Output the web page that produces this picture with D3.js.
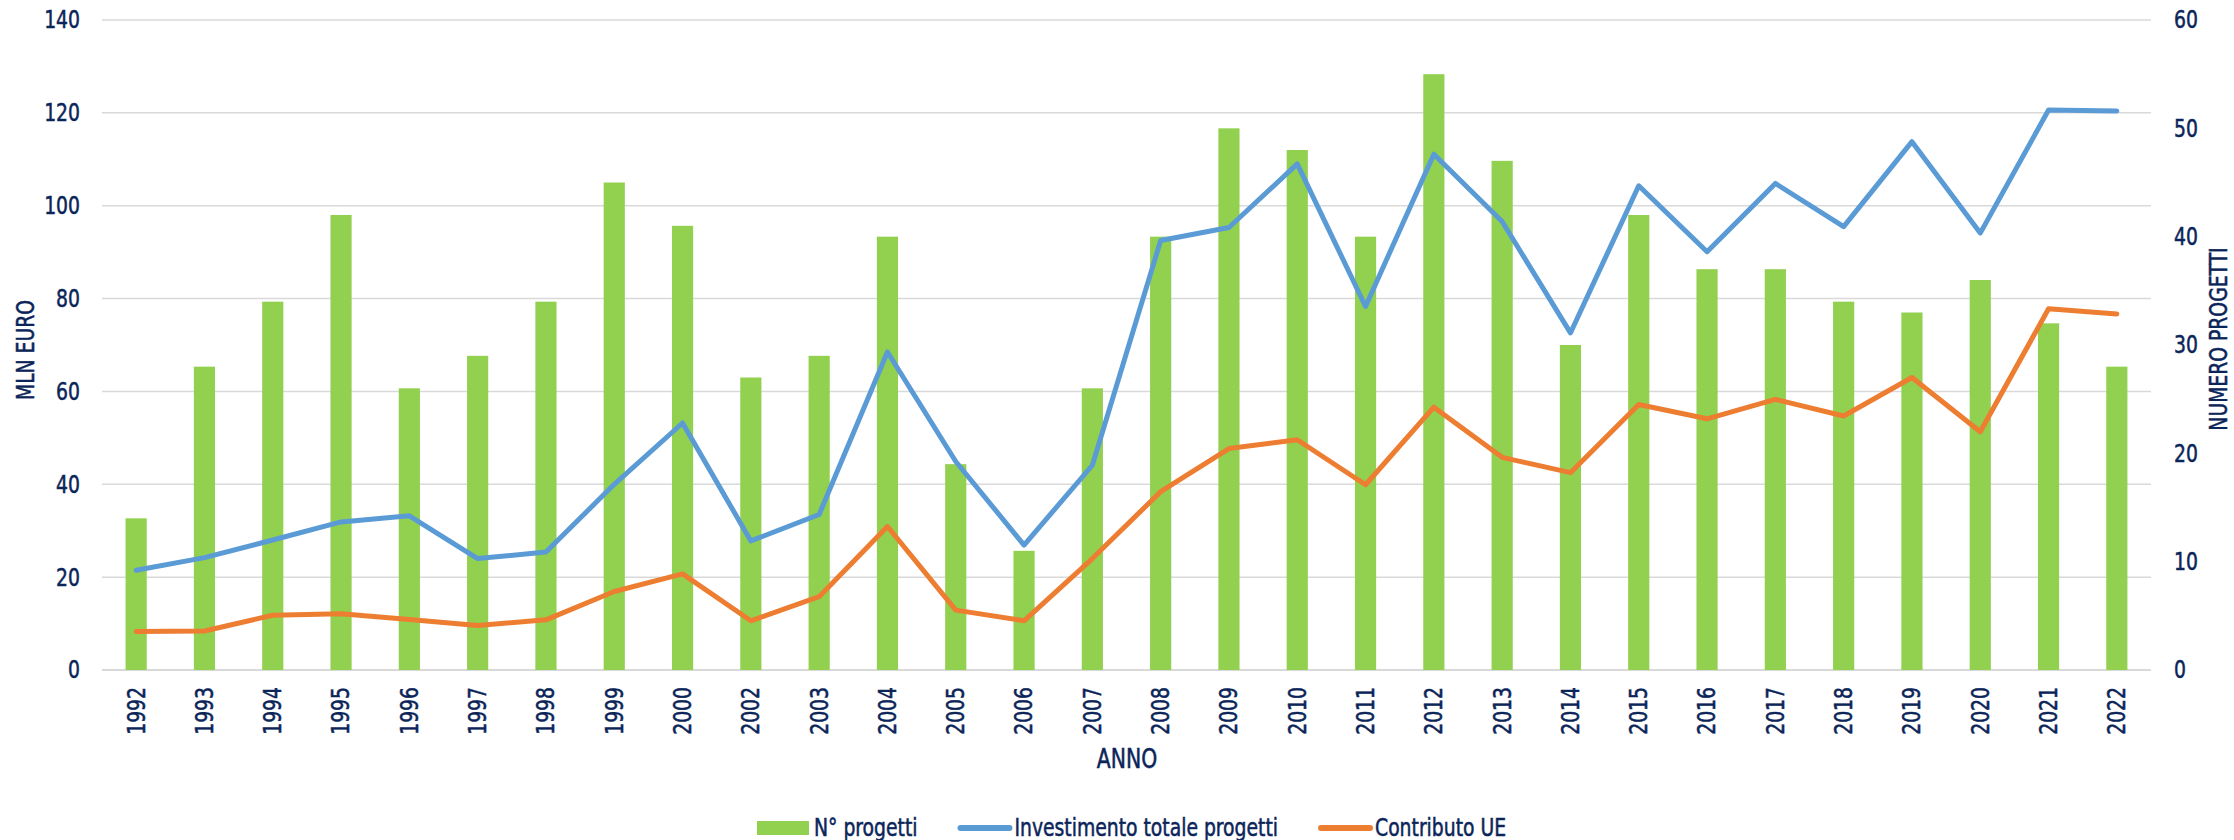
<!DOCTYPE html>
<html>
<head>
<meta charset="utf-8">
<script src="https://cdn.jsdelivr.net/npm/d3@7"></script>
<style>
  html, body { margin: 0; padding: 0; background: #fff; }
  svg text { font-family: "DejaVu Sans Condensed", "DejaVu Sans", sans-serif; font-stretch: condensed; fill: #0b2559; stroke: #0b2559; stroke-width: 0.5px; }
</style>
</head>
<body>
<div id="chart"></div>
<script>
// data
var anni = ['1992','1993','1994','1995','1996','1997','1998','1999','2000','2002','2003','2004','2005','2006','2007',
            '2008','2009','2010','2011','2012','2013','2014','2015','2016','2017','2018','2019','2020','2021','2022'];
var nProgetti = [14, 28, 34, 42, 26, 29, 34, 45, 41, 27, 29, 40, 19, 11, 26,
                 40, 50, 48, 40, 55, 47, 30, 42, 37, 37, 34, 33, 36, 32, 28];
var investimento = [21.5, 24.2, 28.0, 31.9, 33.2, 24.0, 25.4, 40.0, 53.2, 27.8, 33.5, 68.5, 44.9, 26.9, 44.1,
                    92.5, 95.3, 109.0, 78.3, 111.1, 96.6, 72.6, 104.3, 90.1, 104.8, 95.5, 113.8, 94.1, 120.6, 120.4];
var contributo = [8.3, 8.4, 11.8, 12.1, 10.9, 9.6, 10.8, 16.9, 20.7, 10.6, 15.8, 30.9, 12.9, 10.6, 24.0,
                  38.4, 47.7, 49.6, 39.9, 56.6, 45.8, 42.5, 57.2, 54.1, 58.3, 54.7, 63.0, 51.3, 77.8, 76.7];
var ticksSx = [0, 20, 40, 60, 80, 100, 120, 140];
var ticksDx = [0, 10, 20, 30, 40, 50, 60];
var legenda = [
  { nome: 'N° progetti', tipo: 'bar', colore: '#92d050' },
  { nome: 'Investimento totale progetti', tipo: 'line', colore: '#5b9bd5' },
  { nome: 'Contributo UE', tipo: 'line', colore: '#ed7d31' }
];

var W = 2234, H = 840;
var pLeft = 102, pRight = 2151, pTop = 20, pBottom = 670;
var SX = 0.87; // squeeze the font a little, the original uses a narrow face

var svg = d3.select('#chart').append('svg')
  .attr('width', W)
  .attr('height', H);

var x = d3.scaleBand().domain(anni).range([pLeft, pRight]).paddingInner(0.69).paddingOuter(0.345);
var ySx = d3.scaleLinear().domain([0, 140]).range([pBottom, pTop]);
var yDx = d3.scaleLinear().domain([0, 60]).range([pBottom, pTop]);

var pos = function (px, py, rot) {
  return 'translate(' + px + ',' + py + ')' + (rot ? ' rotate(' + rot + ')' : '') + ' scale(' + SX + ',1)';
};

// gridlines
svg.append('g').selectAll('line').data(ticksSx)
  .enter().append('line')
  .attr('x1', pLeft).attr('x2', pRight)
  .attr('y1', function (d) { return ySx(d); })
  .attr('y2', function (d) { return ySx(d); })
  .attr('stroke', '#d9d9d9')
  .attr('stroke-width', function (d) { return d === 0 ? 2 : 1.5; });

// left axis labels
svg.append('g').selectAll('text').data(ticksSx)
  .enter().append('text')
  .attr('transform', function (d) { return pos(80, ySx(d)); })
  .attr('dy', '0.35em')
  .attr('text-anchor', 'end')
  .style('font-size', '24px')
  .text(function (d) { return d; });

// right axis labels
svg.append('g').selectAll('text').data(ticksDx)
  .enter().append('text')
  .attr('transform', function (d) { return pos(2174, yDx(d)); })
  .attr('dy', '0.35em')
  .attr('text-anchor', 'start')
  .style('font-size', '24px')
  .text(function (d) { return d; });

// bars
svg.append('g').selectAll('rect').data(nProgetti)
  .enter().append('rect')
  .attr('x', function (d, i) { return x(anni[i]); })
  .attr('y', function (d) { return yDx(d); })
  .attr('width', x.bandwidth())
  .attr('height', function (d) { return pBottom - yDx(d); })
  .attr('fill', '#92d050');

// lines
var cx = function (d, i) { return x(anni[i]) + x.bandwidth() / 2; };
var linea = d3.line().x(cx).y(function (d) { return ySx(d); });

svg.append('path').datum(investimento)
  .attr('d', linea)
  .attr('fill', 'none')
  .attr('stroke', '#5b9bd5')
  .attr('stroke-width', 5)
  .attr('stroke-linejoin', 'round')
  .attr('stroke-linecap', 'round');

svg.append('path').datum(contributo)
  .attr('d', linea)
  .attr('fill', 'none')
  .attr('stroke', '#ed7d31')
  .attr('stroke-width', 5)
  .attr('stroke-linejoin', 'round')
  .attr('stroke-linecap', 'round');

// x labels (rotated)
svg.append('g').selectAll('text').data(anni)
  .enter().append('text')
  .attr('transform', function (d) { return pos(x(d) + x.bandwidth() / 2, 687, -90); })
  .attr('dy', '0.35em')
  .attr('text-anchor', 'end')
  .style('font-size', '24px')
  .text(function (d) { return d; });

// axis titles
svg.append('text')
  .attr('transform', pos(1127, 768))
  .attr('text-anchor', 'middle')
  .style('font-size', '26px')
  .text('ANNO');

svg.append('text')
  .attr('transform', pos(26, 350, -90))
  .attr('dy', '0.35em')
  .attr('text-anchor', 'middle')
  .style('font-size', '24px')
  .text('MLN EURO');

svg.append('text')
  .attr('transform', pos(2219, 339, -90))
  .attr('dy', '0.35em')
  .attr('text-anchor', 'middle')
  .style('font-size', '24px')
  .text('NUMERO PROGETTI');

// legend
var lx = 757, ly = 828;
legenda.forEach(function (l) {
  if (l.tipo == 'bar') {
    svg.append('rect')
      .attr('x', lx).attr('y', ly - 7)
      .attr('width', 52).attr('height', 14)
      .attr('fill', l.colore);
  } else {
    svg.append('line')
      .attr('x1', lx + 3).attr('x2', lx + 52)
      .attr('y1', ly).attr('y2', ly)
      .attr('stroke', l.colore)
      .attr('stroke-width', 6)
      .attr('stroke-linecap', 'round');
  }
  var t = svg.append('text')
    .attr('transform', pos(lx + 57, ly))
    .attr('dy', '0.35em')
    .style('font-size', '24px')
    .text(l.nome);
  lx = lx + 57 + t.node().getComputedTextLength() * SX + 40;
});
</script>
</body>
</html>
